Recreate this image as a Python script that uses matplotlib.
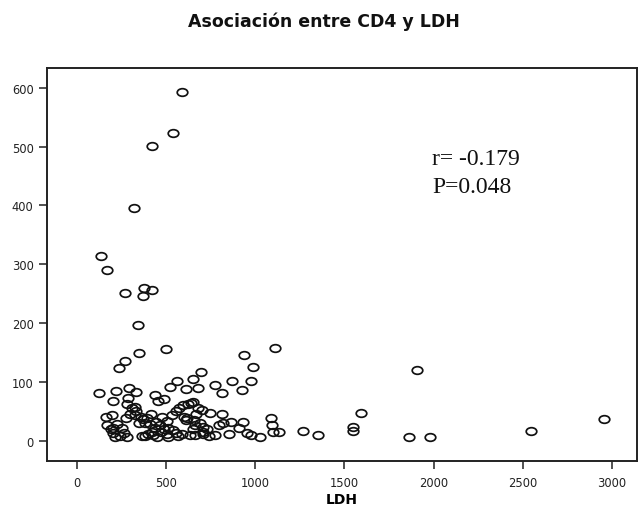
import numpy as np
import matplotlib
matplotlib.use("Agg")
import matplotlib.pyplot as plt
from matplotlib.path import Path
from matplotlib.transforms import Affine2D

# LDH vs CD4 pairs
ldh = [588, 540, 424, 323, 134, 168,
       271, 379, 424, 370, 345, 351, 271, 235, 500, 1109, 937, 988, 1906,
       696, 654, 562, 522, 615, 682, 776, 815, 871, 925, 975,
       127, 222, 295, 332, 201, 286, 284, 441, 453, 488,
       327, 332, 325, 594, 622, 653, 640,
       164, 198, 276, 171, 205, 255, 202, 267, 215, 282,
       373, 384, 415, 444, 439, 401, 383, 452, 420, 395, 360, 430, 470, 465,
       504, 513, 504, 510, 555, 569, 532, 555, 575, 540, 590,
       612, 659, 668, 704, 749, 812, 663, 709, 706, 709, 635, 663, 776, 797,
       855, 864, 930, 911, 952, 978, 1027, 620, 680, 690,
       1088, 1092, 1101, 1133, 1270, 1355, 1550, 1550, 1594, 1864, 1981, 2545, 2954,
       190, 225, 240, 300, 310, 350, 365, 410, 480, 490, 600, 650, 730, 740, 820]
cd4 = [593, 524, 501, 396, 314, 291,
       251, 259, 256, 246, 197, 149, 135, 123, 156, 157, 145, 125, 120,
       116, 105, 101, 92, 88, 89, 95, 81, 102, 86, 102,
       81, 85, 90, 82, 67, 73, 62, 78, 67, 71,
       58, 50, 44, 60, 62, 66, 64,
       41, 44, 38, 27, 22, 22, 13, 13, 6, 6,
       37, 30, 45, 32, 22, 12, 8, 6, 15, 38, 40, 10, 14, 26,
       34, 22, 11, 7, 13, 8, 43, 51, 55, 18, 12,
       35, 36, 45, 53, 47, 46, 26, 24, 15, 12, 9, 10, 10, 27,
       11, 31, 31, 22, 13, 9, 6, 38, 55, 30,
       39, 26, 14, 14, 16, 9, 24, 16, 47, 7, 7, 16, 37,
       20, 28, 8, 45, 55, 30, 8, 28, 40, 20, 40, 20, 20, 8, 30]

stats_lines = ["r= -0.179", "P=0.048"]

# open ellipse marker, wider than tall
circ = Path.unit_circle()
ellipse = Path(Affine2D().scale(1.0, 0.72).transform(circ.vertices), circ.codes)

fig = plt.figure(figsize=(6.4, 5.06), dpi=100)
ax = fig.add_axes([0.073, 0.0875, 0.922, 0.7765])

ax.plot(ldh, cd4, linestyle="none", marker=ellipse, markersize=7.6,
        markerfacecolor="none", markeredgecolor="#111111", markeredgewidth=1.25)

ax.set_xlim(-168, 3139)
ax.set_ylim(-34, 634)
ax.set_xticks([0, 500, 1000, 1500, 2000, 2500, 3000])
ax.set_yticks([0, 100, 200, 300, 400, 500, 600])
ax.tick_params(direction="out", length=6, width=1.1, labelsize=8.3, colors="#222222")
ax.tick_params(axis="x", pad=5)
for s in ax.spines.values():
    s.set_linewidth(1.4)
    s.set_color("#222222")

ax.set_xlabel("LDH", fontsize=10, fontweight="bold", labelpad=2)

ax.text(1994, 479, stats_lines[0], family="Liberation Serif", fontsize=17,
        ha="left", va="center", color="#111111")
ax.text(1994, 433, stats_lines[1], family="Liberation Serif", fontsize=17,
        ha="left", va="center", color="#111111")

fig.text(0.506, 0.958, "Asociación entre CD4 y LDH", ha="center", va="center",
         fontsize=12.5, fontweight="bold", color="#111111")

fig.savefig("out.png", dpi=100)
